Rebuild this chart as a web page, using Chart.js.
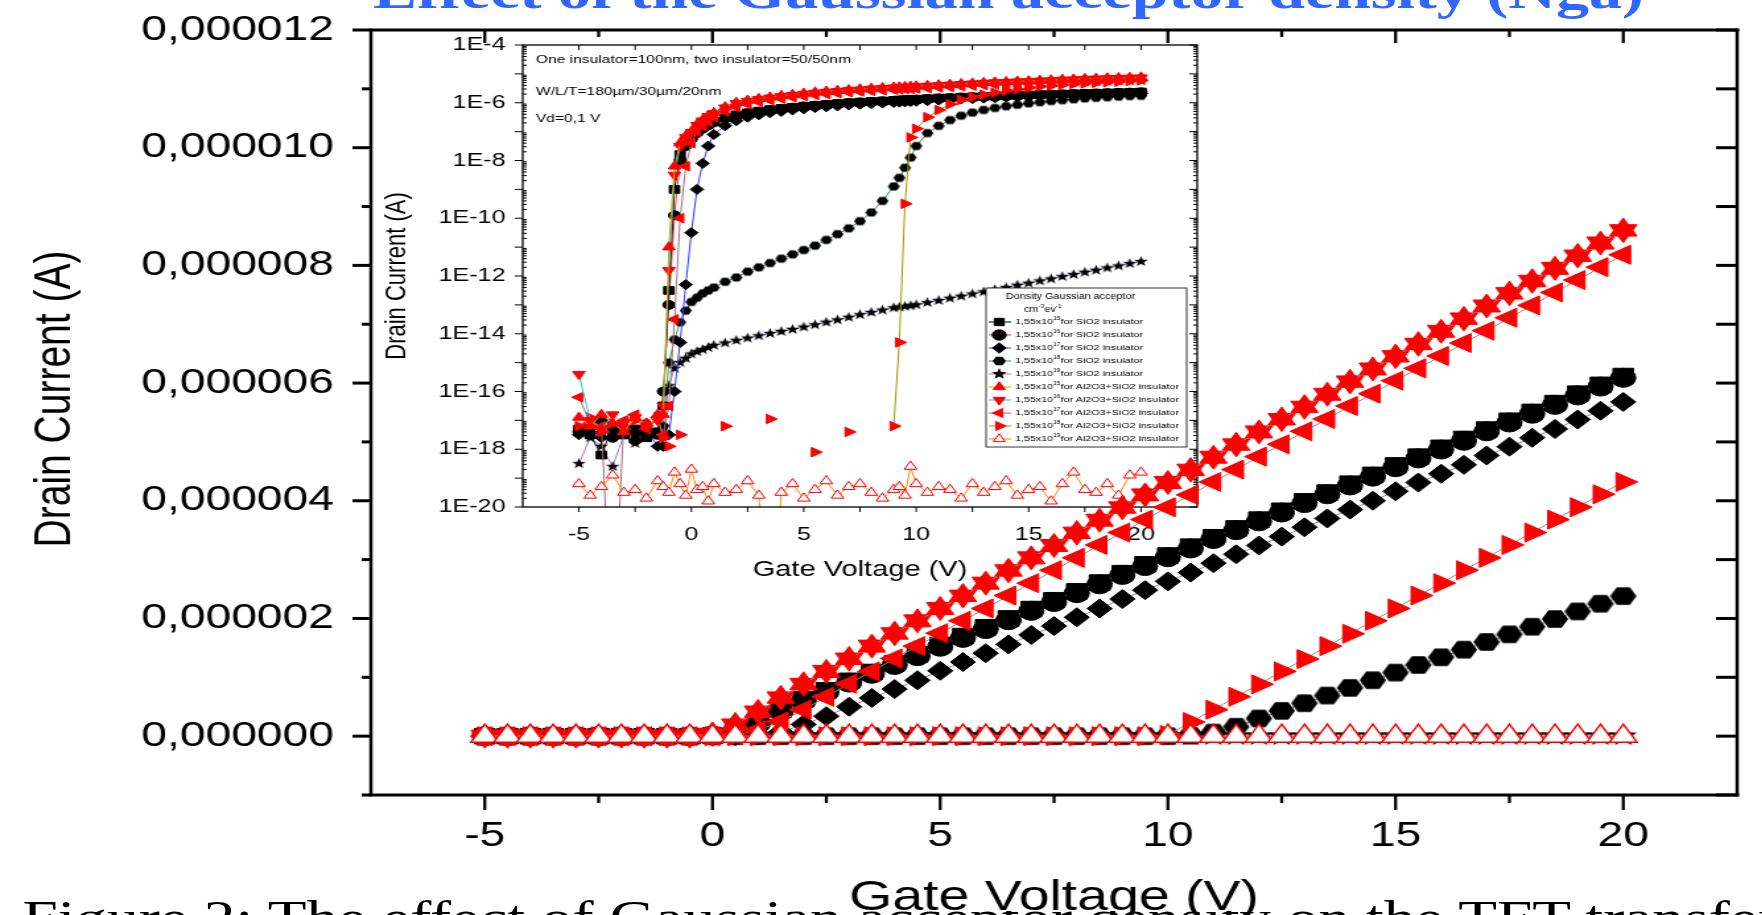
<!DOCTYPE html>
<html>
<head>
<meta charset="utf-8">
<script src="https://cdn.jsdelivr.net/npm/chart.js@4.4.1/dist/chart.umd.min.js"></script>
<style>
  html, body { margin: 0; padding: 0; background: #fff; overflow: hidden; }
  #stage { position: absolute; left: 0; top: 0; width: 1335px; height: 915px; transform: scaleX(1.32); transform-origin: 0 0; }
  #headline { position: absolute; left: 0; top: -34px; width: 1528px; text-align: center; white-space: nowrap;
              font: bold 50px/50px "Liberation Serif", "Times New Roman", serif; color: #3366ff; }
  #caption { position: absolute; left: 17px; top: 894px; white-space: nowrap;
             font: 48px/48px "Liberation Serif", "Times New Roman", serif; color: #000; }
  #insetChart { position: absolute; left: 280px; top: 0; }
  #mainChart { position: absolute; left: 0; top: 0; }
</style>
</head>
<body>
<div id="stage">
  <div id="headline">Effect of the Gaussian acceptor density (Nga)</div>
  <div id="caption">Figure 2: The effect of Gaussian acceptor density on the TFT transfer characteristics</div>
  <canvas id="insetChart" width="650" height="600"></canvas>
  <canvas id="mainChart" width="1335" height="915"></canvas>
</div>
<script>
// ---- main plot: drain current (µA) vs gate voltage, linear scale ----
const mainGate = [-5, -4.5, -4, -3.5, -3, -2.5, -2, -1.5, -1, -0.5,
  0, 0.5, 1, 1.5, 2, 2.5, 3, 3.5, 4, 4.5,
  5, 5.5, 6, 6.5, 7, 7.5, 8, 8.5, 9, 9.5,
  10, 10.5, 11, 11.5, 12, 12.5, 13, 13.5, 14, 14.5,
  15, 15.5, 16, 16.5, 17, 17.5, 18, 18.5, 19, 19.5,
  20];

const mainSiO2_15 = [0, 0, 0, 0, 0, 0, 0, 0, 0, 0,
  0.01, 0.08, 0.25, 0.45, 0.63, 0.78, 0.94, 1.09, 1.24, 1.39,
  1.55, 1.70, 1.85, 2.00, 2.16, 2.31, 2.46, 2.61, 2.77, 2.92,
  3.07, 3.22, 3.38, 3.53, 3.68, 3.83, 3.99, 4.14, 4.29, 4.44,
  4.60, 4.75, 4.90, 5.05, 5.21, 5.36, 5.51, 5.66, 5.82, 5.97,
  6.12];
const mainSiO2_16 = [0, 0, 0, 0, 0, 0, 0, 0, 0, 0,
  0.01, 0.06, 0.22, 0.42, 0.60, 0.75, 0.91, 1.06, 1.21, 1.36,
  1.52, 1.67, 1.82, 1.97, 2.13, 2.28, 2.43, 2.58, 2.74, 2.89,
  3.04, 3.19, 3.35, 3.50, 3.65, 3.80, 3.96, 4.11, 4.26, 4.41,
  4.57, 4.72, 4.87, 5.02, 5.18, 5.33, 5.48, 5.63, 5.79, 5.94,
  6.09];
const mainSiO2_17 = [0, 0, 0, 0, 0, 0, 0, 0, 0, 0,
  0, 0, 0.01, 0.07, 0.20, 0.34, 0.50, 0.65, 0.80, 0.95,
  1.11, 1.26, 1.41, 1.56, 1.72, 1.87, 2.02, 2.17, 2.33, 2.48,
  2.63, 2.78, 2.94, 3.09, 3.24, 3.39, 3.55, 3.70, 3.85, 4.00,
  4.16, 4.31, 4.46, 4.61, 4.77, 4.92, 5.07, 5.22, 5.38, 5.53,
  5.68];
const mainSiO2_18 = [0, 0, 0, 0, 0, 0, 0, 0, 0, 0,
  0, 0, 0, 0, 0, 0, 0, 0, 0, 0,
  0, 0, 0, 0, 0, 0, 0, 0, 0, 0,
  0, 0.01, 0.06, 0.16, 0.30, 0.43, 0.56, 0.69, 0.82, 0.95,
  1.08, 1.21, 1.34, 1.47, 1.60, 1.73, 1.86, 1.99, 2.12, 2.25,
  2.38];
const mainSiO2_19 = [0, 0, 0, 0, 0, 0, 0, 0, 0, 0,
  0, 0, 0, 0, 0, 0, 0, 0, 0, 0,
  0, 0, 0, 0, 0, 0, 0, 0, 0, 0,
  0, 0, 0, 0, 0, 0, 0, 0, 0, 0,
  0, 0, 0, 0, 0, 0, 0, 0, 0, 0,
  0];
const mainAl_15 = [0, 0, 0, 0, 0, 0, 0, 0, 0, 0,
  0.04, 0.20, 0.42, 0.66, 0.89, 1.10, 1.32, 1.53, 1.75, 1.96,
  2.17, 2.39, 2.60, 2.82, 3.03, 3.24, 3.46, 3.67, 3.89, 4.10,
  4.31, 4.53, 4.74, 4.96, 5.17, 5.39, 5.60, 5.81, 6.03, 6.24,
  6.46, 6.67, 6.88, 7.10, 7.31, 7.53, 7.74, 7.95, 8.17, 8.38,
  8.60];
const mainAl_16 = [0, 0, 0, 0, 0, 0, 0, 0, 0, 0,
  0.03, 0.19, 0.41, 0.65, 0.88, 1.10, 1.31, 1.53, 1.74, 1.96,
  2.17, 2.38, 2.60, 2.81, 3.03, 3.24, 3.45, 3.67, 3.88, 4.10,
  4.31, 4.52, 4.74, 4.95, 5.17, 5.38, 5.59, 5.81, 6.02, 6.24,
  6.45, 6.66, 6.88, 7.09, 7.31, 7.52, 7.73, 7.95, 8.16, 8.38,
  8.59];
const mainAl_17 = [0, 0, 0, 0, 0, 0, 0, 0, 0, 0,
  0, 0.02, 0.10, 0.25, 0.45, 0.67, 0.89, 1.10, 1.32, 1.53,
  1.75, 1.96, 2.17, 2.39, 2.60, 2.82, 3.03, 3.25, 3.46, 3.68,
  3.89, 4.10, 4.32, 4.53, 4.75, 4.96, 5.18, 5.39, 5.61, 5.82,
  6.04, 6.25, 6.46, 6.68, 6.89, 7.11, 7.32, 7.54, 7.75, 7.97,
  8.18];
const mainAl_18 = [0, 0, 0, 0, 0, 0, 0, 0, 0, 0,
  0, 0, 0, 0, 0, 0, 0, 0, 0, 0,
  0, 0, 0, 0, 0, 0, 0, 0, 0, 0,
  0.02, 0.24, 0.45, 0.67, 0.88, 1.10, 1.31, 1.53, 1.74, 1.96,
  2.17, 2.39, 2.60, 2.82, 3.03, 3.25, 3.46, 3.68, 3.89, 4.11,
  4.32];
const mainAl_19 = [0, 0, 0, 0, 0, 0, 0, 0, 0, 0,
  0, 0, 0, 0, 0, 0, 0, 0, 0, 0,
  0, 0, 0, 0, 0, 0, 0, 0, 0, 0,
  0, 0, 0, 0, 0, 0, 0, 0, 0, 0,
  0, 0, 0, 0, 0, 0, 0, 0, 0, 0,
  0];

const xTickValues = [-5, 0, 5, 10, 15, 20];
const xMinorValues = [-2.5, 2.5, 7.5, 12.5, 17.5];
const mainYTicks = [0, 2e-6, 4e-6, 6e-6, 8e-6, 10e-6, 12e-6];
const mainYLabels = ['0,000000', '0,000002', '0,000004', '0,000006', '0,000008', '0,000010', '0,000012'];
const mainYMinor = [-1e-6, 1e-6, 3e-6, 5e-6, 7e-6, 9e-6, 11e-6];

// ---- inset: log10 of drain current (A), Vd = 0.1 V; null = no positive value plotted ----
const insetGate = [-5, -4.5, -4, -3.5, -3, -2.5, -2, -1.5,
  -1.25, -1, -0.75, -0.5, -0.25, 0, 0.25, 0.5, 0.75, 1,
  1.5, 2, 2.5, 3, 3.5, 4, 4.5, 5, 5.5, 6, 6.5, 7, 7.5, 8, 8.5, 9,
  9.25, 9.5, 9.75,
  10, 10.5, 11, 11.5, 12, 12.5, 13, 13.5, 14, 14.5, 15, 15.5, 16, 16.5, 17, 17.5, 18, 18.5, 19, 19.5, 20];

const insetSiO2_15 = [-17.3, -17.5, -18.2, -17.2, -17.5, -17.3, -17.6, -17.4,
  -16.5, -12.5, -9.0, -7.8, -7.4, -7.2, -7.0, -6.85, -6.75, -6.65,
  -6.52, -6.42, -6.35, -6.29, -6.24, -6.2, -6.16, -6.12, -6.09, -6.06, -6.03, -6.0, -5.98, -5.96, -5.94, -5.92,
  -5.91, -5.9, -5.89,
  -5.88, -5.86, -5.84, -5.83, -5.81, -5.8, -5.78, -5.77, -5.76, -5.74, -5.73, -5.72, -5.71, -5.7, -5.69, -5.68, -5.67, -5.66, -5.65, -5.64, -5.63];
const insetSiO2_16 = [-17.4, -17.2, -17.0, -17.6, -17.3, -17.7, -17.4, -17.5,
  -16.0, -13.0, -9.9, -8.0, -7.5, -7.25, -7.05, -6.9, -6.78, -6.68,
  -6.55, -6.45, -6.37, -6.31, -6.26, -6.21, -6.17, -6.13, -6.1, -6.07, -6.04, -6.01, -5.99, -5.97, -5.95, -5.93,
  -5.92, -5.91, -5.9,
  -5.89, -5.87, -5.85, -5.84, -5.82, -5.81, -5.79, -5.78, -5.77, -5.75, -5.74, -5.73, -5.72, -5.71, -5.7, -5.69, -5.68, -5.67, -5.66, -5.65, -5.64];
const insetSiO2_17 = [-17.5, -17.3, -17.6, -17.4, -17.2, -17.5, -17.3, -17.9,
  -17.9, -17.5, -16.0, -14.3, -12.3, -10.5, -9.0, -8.1, -7.5, -7.1,
  -6.8, -6.62, -6.5, -6.42, -6.35, -6.3, -6.25, -6.21, -6.17, -6.14, -6.11, -6.08, -6.05, -6.03, -6.01, -5.99,
  -5.98, -5.97, -5.96,
  -5.95, -5.93, -5.91, -5.89, -5.87, -5.86, -5.84, -5.83, -5.81, -5.8, -5.79, -5.77, -5.76, -5.75, -5.74, -5.73, -5.72, -5.71, -5.7, -5.69, -5.68];
const insetSiO2_18 = [-17.3, -17.1, -17.4, -17.2, -17.5, -17.3, -17.1, -17.4,
  -17.2, -15.0, -14.2, -13.6, -13.2, -12.9, -12.75, -12.6, -12.5, -12.4,
  -12.2, -12.05, -11.85, -11.7, -11.55, -11.4, -11.25, -11.1, -10.95, -10.75, -10.55, -10.35, -10.1, -9.8, -9.4, -8.9,
  -8.6, -8.25, -7.9,
  -7.5, -7.05, -6.8, -6.6, -6.45, -6.34, -6.25, -6.18, -6.12, -6.07, -6.02, -5.98, -5.94, -5.91, -5.88, -5.85, -5.83, -5.81, -5.79, -5.77, -5.76];
const insetSiO2_19 = [-18.5, -17.6, -17.9, -18.6, -17.5, -17.8, -17.6, -17.4,
  -17.2, -15.8, -15.2, -15.0, -14.85, -14.7, -14.62, -14.55, -14.48, -14.4,
  -14.32, -14.23, -14.15, -14.07, -13.99, -13.92, -13.85, -13.77, -13.69, -13.6, -13.52, -13.43, -13.34, -13.26, -13.18, -13.1,
  -13.08, -13.05, -13.03,
  -13.0, -12.92, -12.85, -12.77, -12.7, -12.62, -12.55, -12.47, -12.4, -12.32, -12.25, -12.17, -12.1, -12.02, -11.95, -11.87, -11.8, -11.72, -11.65, -11.57, -11.5];
const insetAl_15 = [-16.9, -17.2, -16.8, -17.1, -17.4, -16.9, -17.1, -16.8,
  -16.8, -11.0, -8.2, -7.4, -7.15, -7.0, -6.75, -6.6, -6.45, -6.35,
  -6.15, -6.0, -5.92, -5.86, -5.81, -5.76, -5.72, -5.68, -5.64, -5.61, -5.58, -5.56, -5.53, -5.51, -5.49, -5.47,
  -5.46, -5.45, -5.44,
  -5.43, -5.41, -5.39, -5.37, -5.35, -5.33, -5.31, -5.29, -5.28, -5.26, -5.25, -5.23, -5.22, -5.2, -5.19, -5.17, -5.16, -5.15, -5.14, -5.13, -5.12];
const insetAl_16 = [-15.4, -17.0, -17.3, -16.8, -17.1, -16.9, -17.2, -17.0,
  -16.5, -11.8, -8.5, -7.5, -7.2, -7.02, -6.78, -6.62, -6.47, -6.37,
  -6.17, -6.02, -5.94, -5.88, -5.83, -5.78, -5.74, -5.7, -5.66, -5.63, -5.6, -5.57, -5.55, -5.52, -5.5, -5.48,
  -5.47, -5.46, -5.45,
  -5.44, -5.42, -5.4, -5.38, -5.36, -5.34, -5.32, -5.3, -5.29, -5.27, -5.26, -5.24, -5.23, -5.21, -5.2, -5.18, -5.17, -5.16, -5.15, -5.14, -5.13];
const insetAl_17 = [-16.2, -17.1, -17.2, -25, -17.0, -16.8, -17.3, -16.9,
  -17.5, -16.5, -13.5, -10.0, -8.2, -7.4, -7.0, -6.8, -6.65, -6.5,
  -6.3, -6.15, -6.05, -5.97, -5.91, -5.86, -5.81, -5.77, -5.73, -5.7, -5.67, -5.64, -5.61, -5.59, -5.57, -5.55,
  -5.54, -5.53, -5.52,
  -5.51, -5.49, -5.47, -5.45, -5.43, -5.41, -5.39, -5.37, -5.35, -5.34, -5.32, -5.31, -5.29, -5.28, -5.26, -5.25, -5.24, -5.23, -5.22, -5.21, -5.2];
const insetAl_18 = [-17.2, -16.9, -17.4, -17.1, -17.3, -17.0, -17.2, -16.9,
  -17.6, -17.9, null, -17.5, null, null, null, null, null, null,
  -17.2, null, null, null, -16.95, null, null, null, -18.1, null, null, -17.4, null, null, null, -17.2,
  -14.3, -9.5, -7.2,
  -6.9, -6.5, -6.25, -6.05, -5.9, -5.8, -5.72, -5.65, -5.58, -5.53, -5.48, -5.44, -5.41, -5.38, -5.35, -5.33, -5.31, -5.29, -5.27, -5.25, -5.23];
const insetAl_19 = [-19.2, -19.6, -19.3, -18.9, -19.5, -19.4, -19.7, -19.1,
  -19.3, -19.5, -18.8, -19.2, -19.6, -18.7, -19.4, -19.3, -19.8, -19.2,
  -19.5, -19.4, -19.1, -19.6, -25, -19.5, -19.2, -19.7, -19.4, -19.1, -19.6, -19.3, -19.2, -19.5, -19.7, -19.4,
  -19.3, -19.6, -18.6,
  -19.2, -19.5, -19.3, -19.4, -19.7, -19.2, -19.5, -19.3, -19.1, -19.6, -19.4, -19.3, -19.8, -19.2, -18.8, -19.4, -19.5, -19.2, -19.6, -18.9, -18.8];

const insetXTicks = [-5, 0, 5, 10, 15, 20];
const insetXMarks = [-5, -2.5, 0, 2.5, 5, 7.5, 10, 12.5, 15, 17.5, 20];
const insetYTicks = [1e-20, 1e-18, 1e-16, 1e-14, 1e-12, 1e-10, 1e-8, 1e-6, 1e-4];
const insetYLabels = ['1E-20', '1E-18', '1E-16', '1E-14', '1E-12', '1E-10', '1E-8', '1E-6', '1E-4'];
const insetNotes = ['One insulator=100nm, two insulator=50/50nm', 'W/L/T=180µm/30µm/20nm', 'Vd=0,1 V'];

const FONT = '"Liberation Sans", Arial, sans-serif';
Chart.defaults.font.family = FONT;
Chart.defaults.color = '#000';

function makeMarker(kind, r, fill) {
  const c = document.createElement('canvas');
  const s = Math.ceil(2 * r + 2);
  c.width = s;
  c.height = s;
  const g = c.getContext('2d');
  g.fillStyle = fill;
  g.beginPath();
  const n = kind === 'hex' ? 6 : 10;
  for (let i = 0; i < n; i++) {
    const a = kind === 'hex' ? i * Math.PI / 3 : -Math.PI / 2 + i * Math.PI / 5;
    const rr = kind === 'hex' || i % 2 === 0 ? r : r * 0.42;
    g.lineTo(s / 2 + rr * Math.cos(a), s / 2 + rr * Math.sin(a));
  }
  g.closePath();
  g.fill();
  return c;
}
const marks = {
  main: { hex: makeMarker('hex', 10, '#000'), star: makeMarker('star', 11, '#000') },
  inset: { hex: makeMarker('hex', 4.5, '#000'), star: makeMarker('star', 5.5, '#000') },
  legend: { hex: makeMarker('hex', 5, '#000'), star: makeMarker('star', 6, '#000') }
};

const looks = [
  { ins: 'SiO2', exp: '15', shape: 'rect', rot: 0, fill: '#000000', edge: '#000000', line: '#000000', rMain: 11, rInset: 5.5, order: 3 },
  { ins: 'SiO2', exp: '16', shape: 'circle', rot: 0, fill: '#000000', edge: '#000000', line: '#ff3b3b', rMain: 9.5, rInset: 4.5, order: 3 },
  { ins: 'SiO2', exp: '17', shape: 'rectRot', rot: 0, fill: '#000000', edge: '#000000', line: '#2a3cff', rMain: 9.5, rInset: 5, order: 3 },
  { ins: 'SiO2', exp: '18', shape: 'hex', rot: 0, fill: '#000000', edge: '#000000', line: '#21a84a', rMain: 10, rInset: 4.5, order: 3 },
  { ins: 'SiO2', exp: '19', shape: 'star', rot: 0, fill: '#000000', edge: '#000000', line: '#a57be0', rMain: 11, rInset: 5.5, order: 3 },
  { ins: 'Al2O3+SiO2', exp: '15', shape: 'triangle', rot: 0, fill: '#ff0000', edge: '#ff0000', line: '#e0a000', rMain: 12, rInset: 5.5, order: 2 },
  { ins: 'Al2O3+SiO2', exp: '16', shape: 'triangle', rot: 180, fill: '#ff0000', edge: '#ff0000', line: '#22c8c8', rMain: 12, rInset: 5.5, order: 2 },
  { ins: 'Al2O3+SiO2', exp: '17', shape: 'triangle', rot: 270, fill: '#ff0000', edge: '#ff0000', line: '#a86b78', rMain: 11, rInset: 5.5, order: 2 },
  { ins: 'Al2O3+SiO2', exp: '18', shape: 'triangle', rot: 90, fill: '#ff0000', edge: '#ff0000', line: '#9a9a00', rMain: 11, rInset: 5.5, order: 2 },
  { ins: 'Al2O3+SiO2', exp: '19', shape: 'triangle', rot: 0, fill: '#ffffff', edge: '#ff0000', line: '#ff8a00', rMain: 12, rInset: 5.5, order: 1 }
];
const mainSeries = [mainSiO2_15, mainSiO2_16, mainSiO2_17, mainSiO2_18, mainSiO2_19,
  mainAl_15, mainAl_16, mainAl_17, mainAl_18, mainAl_19];
const insetSeries = [insetSiO2_15, insetSiO2_16, insetSiO2_17, insetSiO2_18, insetSiO2_19,
  insetAl_15, insetAl_16, insetAl_17, insetAl_18, insetAl_19];

function styleOf(look, where) {
  return marks[where][look.shape] || look.shape;
}

function seg(ctx, x1, y1, x2, y2) {
  ctx.beginPath();
  ctx.moveTo(x1, y1);
  ctx.lineTo(x2, y2);
  ctx.stroke();
}

// text with raised small parts (superscripts)
function drawRich(ctx, parts, x, y, size, align) {
  const fonts = parts.map(p => (p[1] ? size * 0.62 : size) + 'px ' + FONT);
  const widths = parts.map((p, i) => { ctx.font = fonts[i]; return ctx.measureText(p[0]).width; });
  const total = widths.reduce((s, w) => s + w, 0);
  let cx = align === 'center' ? x - total / 2 : x;
  ctx.textAlign = 'left';
  ctx.textBaseline = 'middle';
  parts.forEach((p, i) => {
    ctx.font = fonts[i];
    ctx.fillText(p[0], cx, p[1] ? y - size * 0.36 : y);
    cx += widths[i];
  });
}

const mainFrame = {
  id: 'mainFrame',
  beforeDraw(chart) {
    const {ctx, scales: {x}} = chart;
    const mid = (x.left + x.right) / 2;
    ctx.save();
    ctx.fillStyle = '#fff';
    ctx.fillRect(mid - 165, 868, 330, 43);
    ctx.restore();
  },
  afterDraw(chart) {
    const {ctx, chartArea: a, scales: {x, y}} = chart;
    ctx.save();
    ctx.strokeStyle = '#000';
    ctx.lineCap = 'square';
    ctx.lineWidth = 3;
    seg(ctx, a.left, a.bottom, a.right, a.bottom);
    seg(ctx, a.left, a.top, a.right, a.top);
    ctx.lineWidth = 2.5;
    seg(ctx, a.left, a.top, a.left, a.bottom);
    seg(ctx, a.right, a.top, a.right, a.bottom);
    ctx.lineCap = 'butt';
    ctx.lineWidth = 2.3;
    xTickValues.forEach(v => {
      const px = x.getPixelForValue(v);
      seg(ctx, px, a.bottom, px, a.bottom + 15);
      seg(ctx, px, a.top, px, a.top + 13);
    });
    xMinorValues.forEach(v => {
      const px = x.getPixelForValue(v);
      seg(ctx, px, a.bottom, px, a.bottom + 8);
      seg(ctx, px, a.top, px, a.top + 7);
    });
    ctx.lineWidth = 3;
    mainYTicks.forEach(v => {
      const py = y.getPixelForValue(v);
      seg(ctx, a.left - 14, py, a.left, py);
      seg(ctx, a.right - 16, py, a.right, py);
    });
    mainYMinor.forEach(v => {
      const py = y.getPixelForValue(v);
      seg(ctx, a.left - 7, py, a.left, py);
      seg(ctx, a.right - 16, py, a.right, py);
    });
    // y axis title
    ctx.translate(42, 399);
    ctx.rotate(-Math.PI / 2);
    ctx.fillStyle = '#000';
    ctx.font = '39px ' + FONT;
    ctx.textAlign = 'center';
    ctx.textBaseline = 'middle';
    ctx.fillText('Drain Current (A)', 0, 0);
    ctx.restore();
  }
};

const insetFrame = {
  id: 'insetFrame',
  afterDraw(chart) {
    const {ctx, chartArea: a, scales: {x, y}} = chart;
    ctx.save();
    ctx.strokeStyle = '#000';
    ctx.lineWidth = 1.3;
    ctx.strokeRect(a.left, a.top, a.right - a.left, a.bottom - a.top);
    ctx.lineWidth = 1;
    insetXMarks.forEach(v => {
      const px = x.getPixelForValue(v);
      seg(ctx, px, a.bottom, px, a.bottom + 5);
      seg(ctx, px, a.top, px, a.top + 5);
    });
    for (let d = -20; d <= -4; d++) {
      const py = y.getPixelForValue(Math.pow(10, d));
      seg(ctx, a.left - 6, py, a.left, py);
      seg(ctx, a.right - 6, py, a.right, py);
      if (d < -4) {
        for (let k = 2; k < 10; k++) {
          const pm = y.getPixelForValue(k * Math.pow(10, d));
          seg(ctx, a.left, pm, a.left + 3, pm);
          seg(ctx, a.right - 3, pm, a.right, pm);
        }
      }
    }

    ctx.fillStyle = '#000';
    ctx.font = '11.8px ' + FONT;
    ctx.textAlign = 'left';
    ctx.textBaseline = 'middle';
    const noteY = [60, 92, 119];
    insetNotes.forEach((t, i) => ctx.fillText(t, 126, noteY[i]));

    // legend box
    const bx = 467, by = 288, bw = 152, bh = 159;
    ctx.fillStyle = '#fff';
    ctx.fillRect(bx, by, bw, bh);
    ctx.lineWidth = 0.8;
    ctx.strokeRect(bx, by, bw, bh);
    ctx.fillStyle = '#000';
    drawRich(ctx, [['Donsity Gaussian acceptor', 0]], 531, 297, 8.2, 'center');
    drawRich(ctx, [['cm', 0], ['-3', 1], ['ev', 0], ['-1', 1]], 510, 310, 8.2, 'center');
    looks.forEach((look, i) => {
      const ly = 322 + 13 * i;
      ctx.strokeStyle = look.line;
      ctx.lineWidth = 1;
      seg(ctx, 469, ly, 486, ly);
      ctx.fillStyle = look.fill;
      ctx.strokeStyle = look.edge;
      Chart.helpers.drawPoint(ctx, { pointStyle: styleOf(look, 'legend'), rotation: look.rot, radius: 5.2, borderWidth: 1 }, 477, ly);
      ctx.fillStyle = '#000';
      drawRich(ctx, [['1,55x10', 0], [look.exp, 1], ['for ' + look.ins + ' insulator', 0]], 489, ly, 8.1, 'left');
    });
    ctx.restore();
  }
};

const insetSets = looks.map((look, i) => ({
  label: '1,55x10^' + look.exp + ' for ' + look.ins + ' insulator',
  data: insetGate.map((g, j) => ({ x: g, y: insetSeries[i][j] === null ? null : Math.pow(10, insetSeries[i][j]) })),
  borderColor: look.line,
  borderWidth: 1,
  spanGaps: false,
  pointStyle: styleOf(look, 'inset'),
  pointRotation: look.rot,
  pointRadius: look.rInset,
  pointBackgroundColor: look.fill,
  pointBorderColor: look.edge,
  pointBorderWidth: 1,
  order: look.order
}));

new Chart(document.getElementById('insetChart'), {
  type: 'line',
  data: { datasets: insetSets },
  options: {
    responsive: false,
    animation: false,
    devicePixelRatio: 1,
    events: [],
    layout: { padding: { left: 0, right: 23, top: 45, bottom: 0 } },
    plugins: { legend: { display: false }, tooltip: { enabled: false } },
    scales: {
      x: {
        type: 'linear', min: -7.5, max: 22.5,
        afterBuildTicks: s => { s.ticks = insetXTicks.map(v => ({ value: v })); },
        afterFit: s => { s.height = 93; },
        grid: { display: false, drawTicks: false },
        border: { display: false },
        ticks: { font: { size: 19, lineHeight: 1 }, padding: 18, maxRotation: 0, autoSkip: false },
        title: { display: true, text: 'Gate Voltage (V)', font: { size: 22, lineHeight: 1 }, padding: { top: 0, bottom: 19 } }
      },
      y: {
        type: 'logarithmic', min: 1e-20, max: 1e-4,
        afterBuildTicks: s => { s.ticks = insetYTicks.map(v => ({ value: v })); },
        afterFit: s => { s.width = 116; },
        grid: { display: false, drawTicks: false },
        border: { display: false },
        ticks: { font: { size: 19, lineHeight: 1 }, padding: 13, autoSkip: false, callback: (v, i) => insetYLabels[i] },
        title: { display: true, text: 'Drain Current (A)', font: { size: 22, lineHeight: 1 }, padding: { top: 10, bottom: 0 } }
      }
    }
  },
  plugins: [insetFrame]
});

const mainSets = looks.map((look, i) => ({
  label: '1,55x10^' + look.exp + ' for ' + look.ins + ' insulator',
  data: mainGate.map((g, j) => ({ x: g, y: mainSeries[i][j] * 1e-6 })),
  borderColor: '#8a8a8a',
  borderWidth: 1,
  pointStyle: styleOf(look, 'main'),
  pointRotation: look.rot,
  pointRadius: look.rMain,
  pointBackgroundColor: look.fill,
  pointBorderColor: look.edge,
  pointBorderWidth: look.fill === '#ffffff' ? 1.5 : 1,
  order: look.order
}));

new Chart(document.getElementById('mainChart'), {
  type: 'line',
  data: { datasets: mainSets },
  options: {
    responsive: false,
    animation: false,
    devicePixelRatio: 1,
    events: [],
    layout: { padding: { left: 0, right: 19, top: 0, bottom: 0 } },
    plugins: { legend: { display: false }, tooltip: { enabled: false } },
    scales: {
      x: {
        type: 'linear', min: -7.5, max: 22.5,
        afterBuildTicks: s => { s.ticks = xTickValues.map(v => ({ value: v })); },
        afterFit: s => { s.height = 120; s.paddingLeft = 0; s.paddingRight = 0; },
        grid: { display: false, drawTicks: false },
        border: { display: false },
        ticks: { font: { size: 35, lineHeight: 1 }, padding: 24, maxRotation: 0, autoSkip: false },
        title: { display: true, text: 'Gate Voltage (V)', font: { size: 42, lineHeight: 0.8 }, padding: { top: 0, bottom: 0 } }
      },
      y: {
        type: 'linear', min: -1e-6, max: 12e-6,
        afterBuildTicks: s => { s.ticks = mainYTicks.map(v => ({ value: v })); },
        afterFit: s => { s.width = 281; s.paddingTop = 30; s.paddingBottom = 0; },
        grid: { display: false, drawTicks: false },
        border: { display: false },
        ticks: { font: { size: 35, lineHeight: 1 }, padding: 28, autoSkip: false, callback: (v, i) => mainYLabels[i] },
        title: { display: false }
      }
    }
  },
  plugins: [mainFrame]
});
</script>
</body>
</html>
